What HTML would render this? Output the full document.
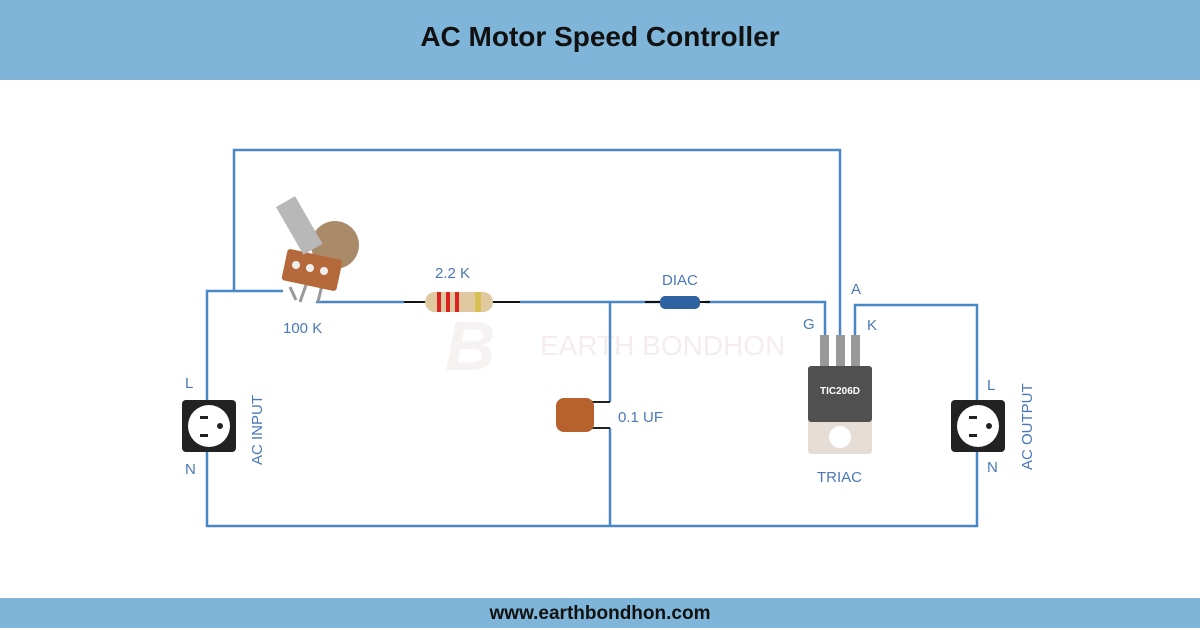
<!DOCTYPE html>
<html><head><style>
body{margin:0;width:1200px;height:628px;background:#fff;overflow:hidden;font-family:"Liberation Sans",sans-serif}
.h{position:absolute;left:0;top:0;width:1200px;height:80px;background:#7fb5d8;text-align:center;line-height:74px;font-weight:bold;font-size:28px;color:#111}
.f{position:absolute;left:0;top:598px;width:1200px;height:30px;background:#7fb5d8;text-align:center;line-height:32px;font-weight:bold;font-size:19px;color:#111}
svg{position:absolute;left:0;top:0}
</style></head><body>
<div class="h">AC Motor Speed Controller</div>
<svg width="1200" height="628" font-family="Liberation Sans, sans-serif">
<text x="540" y="355" font-size="28" fill="#f5eded">EARTH BONDHON</text>
<text x="445" y="370" font-size="70" font-weight="bold" font-style="italic" fill="#f6f2f2">B</text>
<g fill="none" stroke="#4a87c9" stroke-width="2.5">
<polyline points="234,291 234,150 840,150 840,335"/>
<polyline points="283,291 207,291 207,400"/>
<polyline points="207,452 207,526 977,526 977,452"/>
<polyline points="316,302 404,302"/>
<polyline points="520,302 660,302"/>
<polyline points="705,302 825,302 825,335"/>
<polyline points="610,302 610,402"/>
<polyline points="610,428 610,526"/>
<polyline points="855,335 855,305 977,305 977,400"/>
</g>
<!-- pot -->
<g>
<line x1="290" y1="287" x2="296" y2="300" stroke="#999" stroke-width="3"/>
<line x1="306" y1="285" x2="300" y2="302" stroke="#999" stroke-width="3"/>
<line x1="322" y1="285" x2="318" y2="302" stroke="#999" stroke-width="3"/>
<circle cx="335" cy="245" r="24" fill="#a98b6a"/>
<rect x="284" y="254" width="56" height="32" rx="3" fill="#b5693a" transform="rotate(12 312 270)"/>
<circle cx="296" cy="265" r="4" fill="#eee"/><circle cx="310" cy="268" r="4" fill="#eee"/><circle cx="324" cy="271" r="4" fill="#eee"/>
<rect x="288" y="198" width="22" height="55" fill="#b8b8b8" transform="rotate(-30 299 225)"/>
</g>
<!-- resistor -->
<line x1="404" y1="302" x2="520" y2="302" stroke="#111" stroke-width="2"/>
<rect x="425" y="292" width="68" height="20" rx="10" fill="#e0c9a0"/>
<rect x="437" y="292" width="4" height="20" fill="#d22"/><rect x="446" y="292" width="4" height="20" fill="#d22"/><rect x="455" y="292" width="4" height="20" fill="#d22"/><rect x="475" y="292" width="6" height="20" fill="#d8c050"/>
<!-- diac -->
<line x1="645" y1="302" x2="710" y2="302" stroke="#111" stroke-width="2"/>
<rect x="660" y="296" width="40" height="13" rx="5" fill="#2f62a0"/>
<!-- cap -->
<line x1="585" y1="402" x2="610" y2="402" stroke="#222" stroke-width="2"/>
<line x1="585" y1="428" x2="610" y2="428" stroke="#222" stroke-width="2"/>
<rect x="556" y="398" width="38" height="34" rx="8" fill="#b7612c"/>
<!-- triac -->
<rect x="820" y="335" width="9" height="32" fill="#999"/><rect x="836" y="335" width="9" height="32" fill="#999"/><rect x="851" y="335" width="9" height="32" fill="#999"/>
<rect x="808" y="420" width="64" height="34" rx="3" fill="#e5ddd5"/>
<circle cx="840" cy="437" r="11" fill="#fff"/>
<rect x="808" y="366" width="64" height="56" rx="3" fill="#505050"/>
<text x="840" y="394" font-size="10" fill="#fff" text-anchor="middle" font-weight="bold">TIC206D</text>
<!-- sockets -->
<g id="s"><rect x="182" y="400" width="54" height="52" rx="4" fill="#222"/><circle cx="209" cy="426" r="21" fill="#fff"/>
<rect x="200" y="416" width="8" height="3" fill="#222"/><rect x="200" y="434" width="8" height="3" fill="#222"/><circle cx="220" cy="426" r="3" fill="#222"/></g>
<use href="#s" x="769"/>
<g fill="#4a78b8" font-size="15">
<text x="435" y="278">2.2 K</text>
<text x="283" y="333">100 K</text>
<text x="662" y="285">DIAC</text>
<text x="618" y="422">0.1 UF</text>
<text x="803" y="329">G</text>
<text x="851" y="294">A</text>
<text x="867" y="330">K</text>
<text x="817" y="482">TRIAC</text>
<text x="185" y="388">L</text>
<text x="185" y="474">N</text>
<text x="987" y="390">L</text>
<text x="987" y="472">N</text>
<text transform="translate(262,465) rotate(-90)">AC INPUT</text>
<text transform="translate(1032,470) rotate(-90)">AC OUTPUT</text>
</g>
</svg>
<div class="f">www.earthbondhon.com</div>
</body></html>
